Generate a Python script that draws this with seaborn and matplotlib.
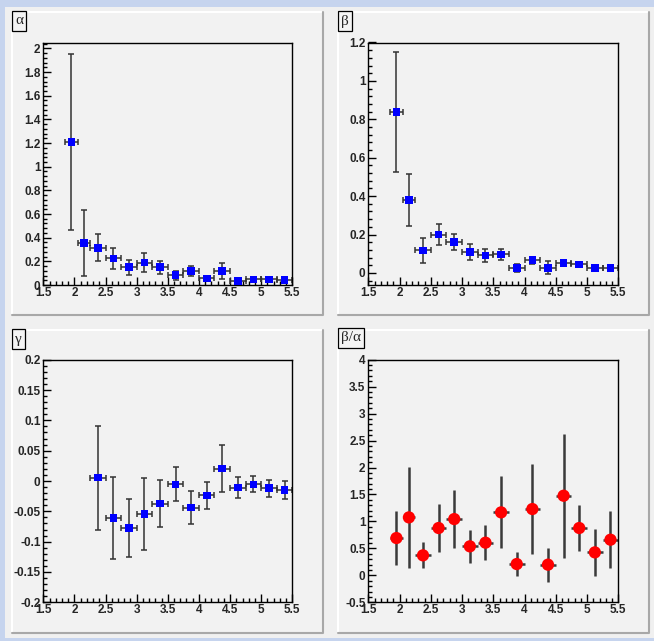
# ROOT-style 2x2 fit parameter summary
import numpy as np
import matplotlib
matplotlib.use('Agg')
import matplotlib.pyplot as plt
import matplotlib.ticker as mticker
from matplotlib.patches import Rectangle
from matplotlib.lines import Line2D
import seaborn as sns
import pandas as pd

# Data
x_centers = [1.95, 2.15, 2.375, 2.625, 2.875, 3.125, 3.375, 3.625,
             3.875, 4.125, 4.375, 4.625, 4.875, 5.125, 5.375]
x_halfwidth = [0.1, 0.1, 0.125, 0.125, 0.125, 0.125, 0.125, 0.125,
               0.125, 0.125, 0.125, 0.125, 0.125, 0.125, 0.125]

alpha_vals = [1.21, 0.355, 0.315, 0.225, 0.15, 0.19, 0.15, 0.082,
              0.12, 0.056, 0.118, 0.034, 0.048, 0.048, 0.042]
alpha_err = [0.745, 0.275, 0.115, 0.09, 0.063, 0.078, 0.055, 0.04,
             0.04, 0.02, 0.068, 0.012, 0.012, 0.012, 0.012]

beta_vals = [0.838, 0.379, 0.117, 0.199, 0.161, 0.108, 0.091, 0.096,
             0.026, 0.066, 0.026, 0.052, 0.044, 0.024, 0.026]
beta_err = [0.31, 0.136, 0.063, 0.055, 0.04, 0.04, 0.035, 0.03,
            0.022, 0.019, 0.034, 0.01, 0.01, 0.008, 0.008]

# gamma starts at the third bin
gamma_vals = [0.0055, -0.0614, -0.0778, -0.0548, -0.0373, -0.0055, -0.0438,
              -0.0236, 0.0203, -0.011, -0.0055, -0.012, -0.0153]
gamma_err = [0.086, 0.068, 0.0475, 0.059, 0.039, 0.028, 0.027,
             0.022, 0.0385, 0.0175, 0.013, 0.014, 0.015]

ratio_vals = [0.692, 1.075, 0.371, 0.878, 1.044, 0.538, 0.606, 1.168,
              0.21, 1.23, 0.198, 1.477, 0.878, 0.426, 0.661]
ratio_err = [0.5, 0.943, 0.241, 0.44, 0.53, 0.31, 0.32, 0.67,
             0.216, 0.83, 0.315, 1.15, 0.43, 0.44, 0.525]

titles = ['\u03b1', '\u03b2', '\u03b3', '\u03b2/\u03b1']

sns.set_style('ticks')
plt.rcParams['font.family'] = ['Liberation Sans', 'DejaVu Sans']

W, H = 654, 641
fig = plt.figure(figsize=(W / 100, H / 100), dpi=100)
fig.patch.set_facecolor('#f0f0f0')


def fx(px):
    return px / W


def fy(py):
    return 1 - py / H


# window decoration strips
for rect in [(0, fy(7), 1, 7 / H), (0, 0, 5 / W, 1), (0, 0, 1, 3 / H)]:
    fig.add_artist(Rectangle(rect[:2], rect[2], rect[3], transform=fig.transFigure,
                             facecolor='#c6d4ee', edgecolor='none', zorder=-20))

pads = [(12, 12, 323, 315), (338, 12, 649, 315),
        (12, 330, 323, 633), (338, 330, 649, 633)]
for (x0, y0, x1, y1) in pads:
    fig.add_artist(Rectangle((fx(x0), fy(y1)), fx(x1 - x0), (y1 - y0) / H,
                             transform=fig.transFigure, facecolor='#f2f2f2',
                             edgecolor='none', zorder=-15))
    # bevel: light top/left, grey bottom/right
    fig.add_artist(Line2D([fx(x0), fx(x0), fx(x1)], [fy(y1), fy(y0), fy(y0)],
                          transform=fig.transFigure, color='#ffffff', lw=1.5,
                          zorder=-10))
    fig.add_artist(Line2D([fx(x0), fx(x1), fx(x1)], [fy(y1), fy(y1), fy(y0)],
                          transform=fig.transFigure, color='#a8a8a8', lw=1.5,
                          zorder=-10))

axes_px = [(43.3, 42.5, 292.3, 285), (368.3, 42.5, 618.3, 285),
           (43.3, 359.7, 292.3, 602.3), (368.3, 359.7, 618.3, 602.3)]
axs = []
for (x0, y0, x1, y1) in axes_px:
    ax = fig.add_axes([fx(x0), fy(y1), fx(x1 - x0), (y1 - y0) / H])
    ax.set_facecolor('#f2f2f2')
    axs.append(ax)

panels = [
    (x_centers, x_halfwidth, alpha_vals, alpha_err, (0, 2.05), 0.2, 0.04),
    (x_centers, x_halfwidth, beta_vals, beta_err, (-0.063, 1.2), 0.2, 0.04),
    (x_centers[2:], x_halfwidth[2:], gamma_vals, gamma_err, (-0.2, 0.2), 0.05, 0.01),
    (x_centers, x_halfwidth, ratio_vals, ratio_err, (-0.5, 4.0), 0.5, 0.1),
]

fmt = mticker.FuncFormatter(lambda v, p: '%g' % round(v, 6) if abs(v) > 1e-9 else '0')

for i, (ax, (xs, xe, ys, ye, ylim, major, minor)) in enumerate(zip(axs, panels)):
    df = pd.DataFrame({'x': xs, 'y': ys})
    if i < 3:
        ax.errorbar(xs, ys, xerr=xe, yerr=ye, fmt='none', ecolor='#333333',
                    elinewidth=1.1, capsize=2.2, capthick=1.1, zorder=2)
        sns.scatterplot(data=df, x='x', y='y', ax=ax, marker='s', s=30,
                        color='#0000ff', edgecolor='none', linewidth=0, zorder=3)
    else:
        ax.errorbar(xs, ys, xerr=xe, yerr=ye, fmt='none', ecolor='#3a3a3a',
                    elinewidth=1.8, capsize=0, zorder=2)
        sns.scatterplot(data=df, x='x', y='y', ax=ax, marker='o', s=78,
                        color='#ff0000', edgecolor='none', linewidth=0, zorder=3)
    ax.set_xlim(1.5, 5.5)
    ax.set_ylim(*ylim)
    ax.set_xlabel('')
    ax.set_ylabel('')
    ax.xaxis.set_major_locator(mticker.MultipleLocator(0.5))
    ax.xaxis.set_minor_locator(mticker.MultipleLocator(0.1))
    ax.yaxis.set_major_locator(mticker.MultipleLocator(major))
    ax.yaxis.set_minor_locator(mticker.MultipleLocator(minor))
    ax.xaxis.set_major_formatter(fmt)
    ax.yaxis.set_major_formatter(fmt)
    ax.tick_params(which='both', direction='in', top=False, right=False,
                   color='black', width=1.0)
    ax.tick_params(which='major', length=6)
    ax.tick_params(which='minor', length=3)
    ax.tick_params(axis='x', pad=1.5)
    ax.tick_params(axis='y', pad=2)
    for lab in ax.get_xticklabels() + ax.get_yticklabels():
        lab.set_fontweight('bold')
        lab.set_fontsize(8.5)
    for sp in ax.spines.values():
        sp.set_visible(True)
        sp.set_color('black')
        sp.set_linewidth(1.0)

# panel title boxes
title_pos = [(15, 21), (341, 21), (15, 339), (341, 338)]
for (tx, ty), t in zip(title_pos, titles):
    fig.text(fx(tx), fy(ty), t, ha='left', va='center', fontsize=11,
             family=['Liberation Serif', 'DejaVu Serif'],
             bbox=dict(boxstyle='square,pad=0.2', facecolor='#f4f4f4',
                       edgecolor='black', linewidth=0.9))

plt.savefig('out.png', dpi=100, facecolor=fig.get_facecolor())
